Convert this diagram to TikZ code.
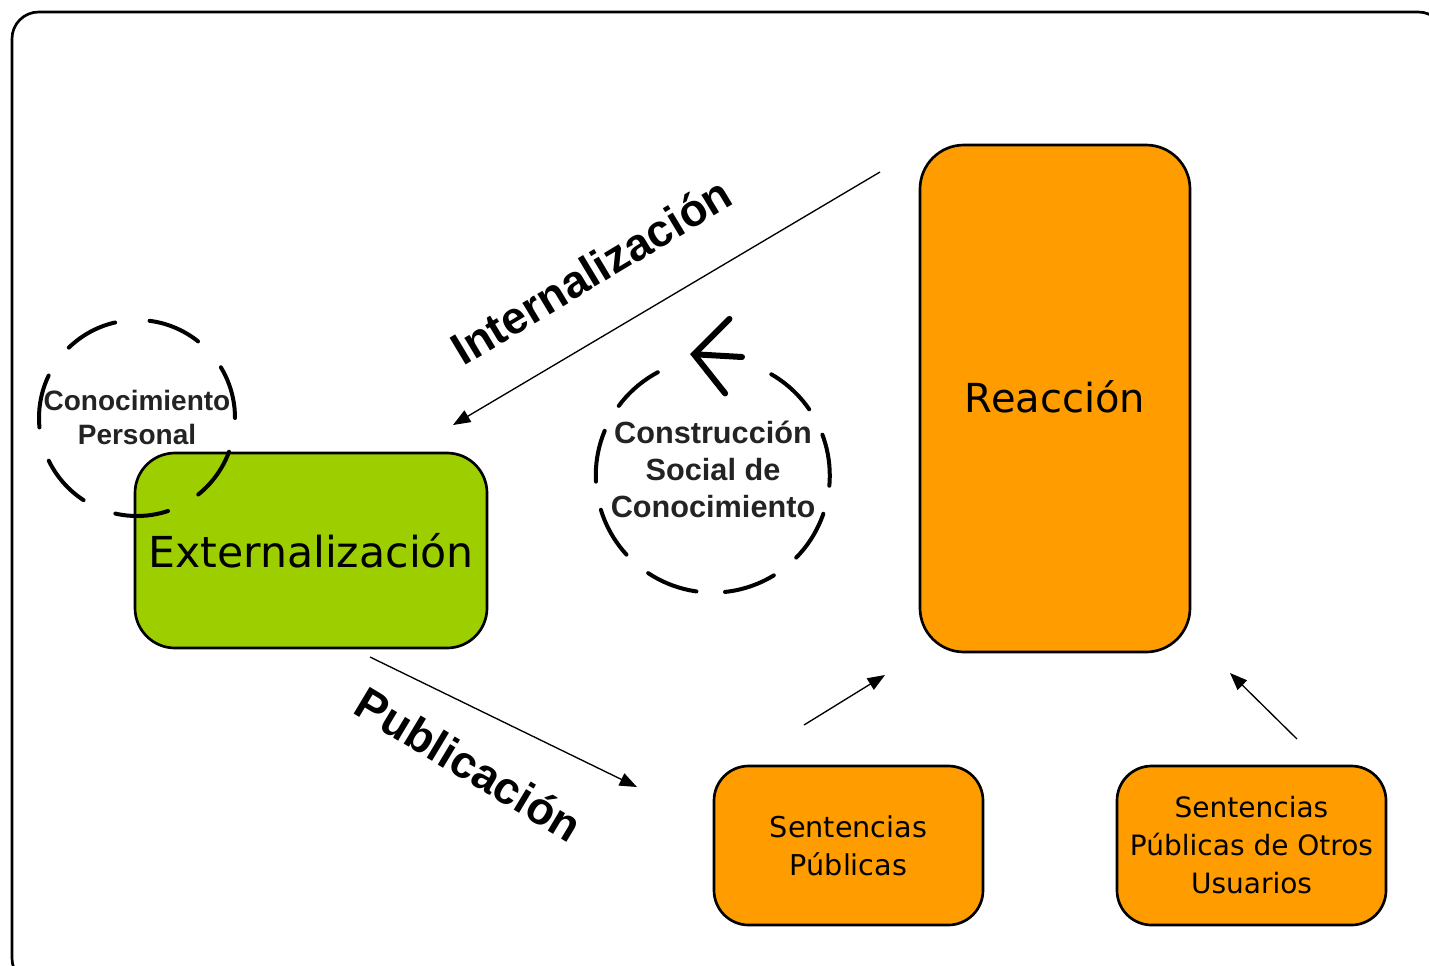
\documentclass[tikz,border=0pt]{standalone}
\usepackage{fontspec}
\usetikzlibrary{arrows.meta}
\newfontfamily\comicfont{DejaVu Sans}
\newfontfamily\arialfont{Liberation Sans}
\definecolor{boxgreen}{RGB}{157,207,0}
\definecolor{boxorange}{RGB}{255,157,0}
\definecolor{inkgray}{RGB}{35,35,35}

\tikzset{every picture/.style={line width=0.75pt}}
\tikzset{
  roundbox/.style={draw=black, line width=2pt, inner sep=0pt, align=center},
  dashring/.style={draw=black, line width=3pt, line cap=round},
  thinarrow/.style={line width=1pt, -{Triangle[length=13pt,width=10pt]}},
  arrowlabel/.style={font=\arialfont\bfseries\fontsize{34}{40}\selectfont, inner sep=0pt},
  ringtext/.style={text=inkgray, align=center, inner sep=0pt}
}

\begin{document}
\begin{tikzpicture}[x=0.75pt,y=0.75pt,yscale=-1,xscale=1]
    \useasboundingbox (0,0) rectangle (1429,965);
    \clip (0,0) rectangle (1429,965);

    %Shape: Frame
    \draw [line width=2pt, rounded corners=20pt] (12,12) rectangle (1445,985);

    %Shape: Rounded Rect [externalizacion]
    \node (ext) at (311,550.5) [roundbox, fill=boxgreen, rounded corners=30pt,
      minimum width=264pt, minimum height=146.25pt,
      font=\comicfont\fontsize{32}{36}\selectfont] {Externalización};
    %Shape: Rounded Rect [reaccion]
    \node (reac) at (1055,398.5) [roundbox, fill=boxorange, rounded corners=33pt,
      minimum width=202.5pt, minimum height=380.25pt,
      font=\comicfont\fontsize{30}{36}\selectfont] {\raisebox{3pt}{Reacción}};
    %Shape: Rounded Rect [sentencias]
    \node (sent) at (848.5,845.5) [roundbox, fill=boxorange, rounded corners=26pt,
      minimum width=201.75pt, minimum height=119.25pt,
      font=\comicfont\fontsize{21.5}{28.5}\selectfont] {Sentencias\\Públicas};
    %Shape: Rounded Rect [otros]
    \node (otros) at (1251.5,845.5) [roundbox, fill=boxorange, rounded corners=26pt,
      minimum width=201.75pt, minimum height=119.25pt,
      font=\comicfont\fontsize{21}{28.5}\selectfont] {Sentencias\\Públicas de Otros\\Usuarios};

    %Shape: Circle [conocimiento personal]
    \node (pers) at (137,418) [circle, dashring, dash pattern=on 40pt off 26pt,
      minimum size=147pt, inner sep=0pt] {};
    \node (perstext) at (137,417) [ringtext,
      font=\arialfont\bfseries\fontsize{21}{25.5}\selectfont] {Conocimiento\\Personal};

    %Shape: Circle [construccion social]
    \node (social) at (713,476) [circle, minimum size=175.5pt, inner sep=0pt] {};
    \draw [dashring, dash pattern=on 39pt off 21.5pt]
      (social.118) arc [start angle=-118, end angle=-422, radius=117];
    \node (socialtext) at (713,469) [ringtext,
      font=\arialfont\bfseries\fontsize{23}{27.75}\selectfont] {Construcción\\Social de\\Conocimiento};
    %Arrow head on the ring
    \coordinate (ringtail) at (742,357);
    \coordinate (ringtip) at (690,354);
    \draw [line width=4.5pt, line cap=round,
      -{Straight Barb[length=25pt,width=56pt,line cap=round]}] (ringtail) -- (ringtip);

    %Straight Lines [internalizacion]
    \coordinate (intfrom) at (880,172);
    \coordinate (intto) at (453,425);
    \draw [thinarrow] (intfrom) -- (intto);
    %Straight Lines [publicacion]
    \coordinate (pubfrom) at (370,657);
    \coordinate (pubto) at (637,787);
    \draw [thinarrow] (pubfrom) -- (pubto);
    %Straight Lines [sentencias to reaccion]
    \coordinate (sentup) at (804,725);
    \coordinate (reacleft) at (885,675);
    \draw [thinarrow] (sentup) -- (reacleft);
    %Straight Lines [otros to reaccion]
    \coordinate (otrosup) at (1297,739);
    \coordinate (reacright) at (1230,673);
    \draw [thinarrow] (otrosup) -- (reacright);

    % Text Node
    \node (intlabel) at (591,271) [arrowlabel, rotate=31] {Internalización};
    % Text Node
    \node (publabel) at (469,764) [arrowlabel, rotate=-31] {Publicación};

\end{tikzpicture}
\end{document}
